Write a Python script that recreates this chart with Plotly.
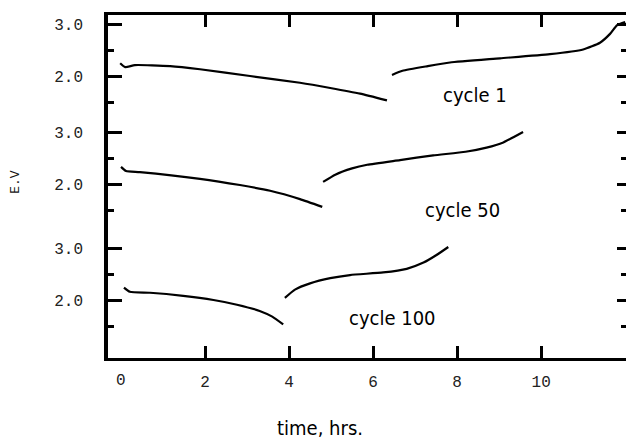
import plotly.graph_objects as go

# ---- data (time in hours, cell voltage E in V) ----
c1_dis_t = [-0.02, 0.10, 0.33, 1.17, 1.88, 3.07, 4.26, 4.98, 5.69, 6.33]
c1_dis_v = [2.245, 2.17, 2.21, 2.19, 2.13, 2.00, 1.87, 1.77, 1.66, 1.53]
c1_chg_t = [6.45, 6.70, 7.30, 7.83, 9.02, 10.21, 11.00, 11.40, 11.64, 11.81, 12.00]
c1_chg_v = [2.02, 2.10, 2.19, 2.26, 2.34, 2.42, 2.51, 2.64, 2.81, 2.98, 3.04]

c50_dis_t = [0.00, 0.12, 0.45, 1.88, 2.83, 3.55, 4.26, 4.79]
c50_dis_v = [2.33, 2.25, 2.23, 2.10, 1.98, 1.87, 1.71, 1.56]
c50_chg_t = [4.81, 5.10, 5.50, 5.86, 6.64, 7.43, 8.20, 8.70, 9.10, 9.57]
c50_chg_v = [2.04, 2.18, 2.30, 2.37, 2.46, 2.55, 2.62, 2.70, 2.80, 3.00]

c100_dis_t = [0.07, 0.21, 0.69, 1.48, 2.20, 2.76, 3.30, 3.60, 3.86]
c100_dis_v = [2.24, 2.16, 2.14, 2.08, 2.00, 1.91, 1.79, 1.68, 1.53]
c100_chg_t = [3.90, 4.14, 4.50, 4.98, 5.45, 6.24, 6.80, 7.20, 7.50, 7.79]
c100_chg_v = [2.04, 2.20, 2.32, 2.42, 2.48, 2.53, 2.60, 2.72, 2.86, 3.02]

cycle_labels = ["cycle 1", "cycle 50", "cycle 100"]
x_tick_vals = [2, 4, 6, 8, 10]          # marked ticks (with labels)
x_tick_text = ["2", "4", "6", "8", "10"]
x_origin_label = "0"                    # origin labelled without a tick mark
y_major_volts = [3.0, 2.0]
y_minor_volts = [2.5, 1.5]

# ---- layout constants (vertical stacking of the three panels) ----
offsets = [0.0, -2.077, -4.308]

fig = go.Figure()
series = [
    (c1_dis_t, c1_dis_v, c1_chg_t, c1_chg_v),
    (c50_dis_t, c50_dis_v, c50_chg_t, c50_chg_v),
    (c100_dis_t, c100_dis_v, c100_chg_t, c100_chg_v),
]
line_style = dict(color="black", width=2.2, shape="spline", smoothing=0.5)
for (dt, dv, ct, cv), off, name in zip(series, offsets, cycle_labels):
    fig.add_trace(go.Scatter(x=dt, y=[v + off for v in dv], mode="lines",
                             line=line_style, name=name, showlegend=False))
    fig.add_trace(go.Scatter(x=ct, y=[v + off for v in cv], mode="lines",
                             line=line_style, name=name, showlegend=False))

major_vals, major_text, minor_vals = [], [], []
for off in offsets:
    for v in y_major_volts:
        major_vals.append(v + off)
        major_text.append(f"{v:.1f}")
    for v in y_minor_volts:
        minor_vals.append(v + off)

xrange_ = [-0.31, 12.02]
yrange = [-3.423, 3.173]
tickfont = dict(family="Liberation Mono, Courier New, monospace", size=16, color="#222")

fig.update_layout(
    width=626, height=441,
    margin=dict(l=108, r=0, t=15, b=83),
    paper_bgcolor="white", plot_bgcolor="white",
    xaxis=dict(
        range=xrange_, showgrid=False, zeroline=False,
        showline=True, linecolor="black", linewidth=3, mirror="ticks",
        tickvals=x_tick_vals, ticktext=x_tick_text,
        ticks="inside", ticklen=12, tickwidth=2.5, tickcolor="black",
        tickfont=tickfont, ticklabelstandoff=7,
    ),
    yaxis=dict(
        range=yrange, showgrid=False, zeroline=False,
        showline=True, linecolor="black", linewidth=3.5,
        tickvals=major_vals, ticktext=major_text,
        ticks="inside", ticklen=14, tickwidth=2.5, tickcolor="black",
        minor=dict(tickvals=minor_vals, ticks="inside", ticklen=6,
                   tickwidth=2.5, tickcolor="black", showgrid=False),
        tickfont=tickfont, ticklabelstandoff=18,
    ),
    yaxis2=dict(
        range=yrange, overlaying="y", side="right", anchor="x", showgrid=False,
        zeroline=False, showline=False, tickvals=major_vals, showticklabels=False,
        ticks="inside", ticklen=9, tickwidth=2.5, tickcolor="black",
        minor=dict(tickvals=minor_vals, ticks="inside", ticklen=5,
                   tickwidth=2.5, tickcolor="black", showgrid=False),
    ),
)
# invisible trace to activate the right-hand tick axis
fig.add_trace(go.Scatter(x=[xrange_[0]], y=[yrange[0]], xaxis="x", yaxis="y2",
                         mode="markers", marker=dict(opacity=0), showlegend=False,
                         hoverinfo="skip"))

# origin label on the x axis (no tick mark at 0 in the original)
fig.add_annotation(x=0, xref="x", y=-0.067, yref="paper", text=x_origin_label,
                   showarrow=False, font=tickfont, xanchor="center", yanchor="middle")

label_font = dict(family="DejaVu Sans Condensed, Liberation Sans Narrow, sans-serif",
                  size=20, color="black")
label_pos = [(8.43, 1.635), (8.12, -0.577), (6.45, -2.654)]
for (lx, ly), txt in zip(label_pos, cycle_labels):
    fig.add_annotation(x=lx, y=ly, text=txt, showarrow=False, font=label_font,
                       xanchor="center", yanchor="middle")

fig.add_annotation(xref="paper", yref="paper", x=0.409, y=-0.204, text="time, hrs.",
                   showarrow=False, font=label_font, xanchor="center", yanchor="middle")
fig.add_annotation(xref="paper", yref="paper", x=-0.18, y=0.513, text="E.V",
                   showarrow=False, textangle=-90,
                   font=dict(family="Liberation Mono, Courier New, monospace", size=13,
                             color="#111"),
                   xanchor="center", yanchor="middle")

fig.write_html("out.html")
